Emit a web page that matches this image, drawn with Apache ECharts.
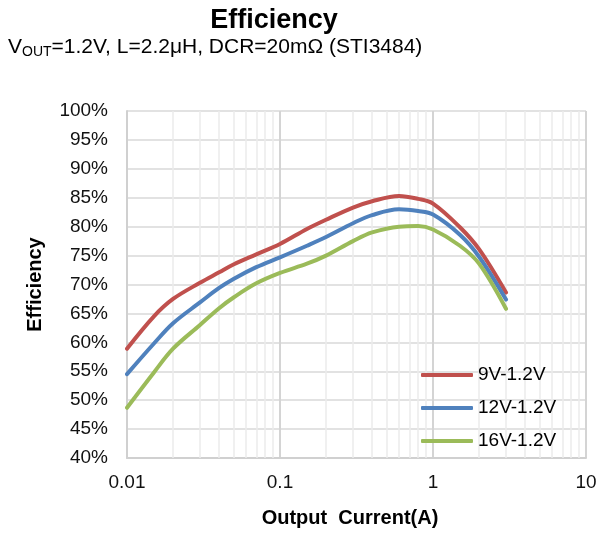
<!DOCTYPE html>
<html>
<head>
<meta charset="utf-8">
<script src="https://cdn.jsdelivr.net/npm/echarts@6/dist/echarts.min.js"></script>
<style>
  html, body { margin: 0; padding: 0; background: #fff; }
  #main { width: 600px; height: 533px; }
</style>
</head>
<body>
<div id="main"></div>
<script>
// output current (A)
const current = [0.01, 0.015, 0.02, 0.03, 0.04, 0.05, 0.07, 0.1, 0.15, 0.2, 0.3, 0.4, 0.6, 0.8, 1, 1.5, 2, 3];
// efficiency (%) per input voltage
const eff9V = [58.9, 64.5, 67.5, 70.3, 72.1, 73.5, 75.2, 77.0, 79.6, 81.2, 83.3, 84.4, 85.3, 84.8, 84.0, 79.9, 76.1, 68.6];
const eff12V = [54.5, 59.8, 63.3, 66.9, 69.4, 71.0, 73.0, 74.7, 76.7, 78.2, 80.6, 82.0, 83.0, 82.7, 82.1, 78.6, 74.8, 67.4];
const eff16V = [48.7, 54.8, 58.9, 63.0, 65.9, 67.8, 70.2, 72.0, 73.6, 75.0, 77.5, 79.0, 80.0, 80.1, 79.5, 76.7, 73.6, 65.8];
const seriesNames = ["9V-1.2V", "12V-1.2V", "16V-1.2V"];
const colors = ["#C0504D", "#4F81BD", "#9BBB59"];
// light gridlines at 2..9 of each decade
const minorGrid = [];
[0.01, 0.1, 1].forEach(function (d) {
  for (let k = 2; k <= 9; k++) minorGrid.push(+(d * k).toPrecision(2));
});

const myChart = echarts.init(document.getElementById("main"), null, { renderer: "canvas" });

function pairs(ys) {
  return current.map(function (x, i) { return [x, ys[i]]; });
}

const allData = [eff9V, eff12V, eff16V];
let series = [
  {
    name: "grid",
    type: "line",
    data: [],
    z: 1,
    silent: true,
    markLine: {
      z: 1,
      silent: true,
      symbol: ["none", "none"],
      animation: false,
      label: { show: false },
      lineStyle: { color: "#ebebeb", width: 1.5, type: "solid" },
      data: minorGrid.map(function (v) { return { xAxis: v }; })
    }
  }
];
for (let i = 0; i < allData.length; i++) {
  series.push({
    name: seriesNames[i],
    type: "line",
    data: pairs(allData[i]),
    smooth: 0.35,
    showSymbol: false,
    z: 3,
    lineStyle: { color: colors[i], width: 4, cap: "round" },
    itemStyle: { color: colors[i] }
  });
}

const option = {
  animation: false,
  title: [
    {
      text: "Efficiency",
      left: 274,
      textAlign: "center",
      top: 7,
      padding: 0,
      textStyle: { fontFamily: "Liberation Sans, Arial", fontSize: 27, fontWeight: "bold", color: "#000" }
    },
    {
      text: "{v|V}{s|OUT}{v|=1.2V, L=2.2\u03bcH, DCR=20m\u03a9 (STI3484)}",
      left: 8,
      top: 35,
      padding: 0,
      textStyle: {
        fontWeight: "normal",
        rich: {
          v: { fontFamily: "Liberation Sans, Arial", fontSize: 21, fontWeight: "normal", lineHeight: 24, color: "#000" },
          s: { fontFamily: "Liberation Sans, Arial", fontSize: 14, fontWeight: "normal", lineHeight: 14, verticalAlign: "bottom", color: "#000" }
        }
      }
    }
  ],
  legend: {
    data: seriesNames,
    orient: "vertical",
    left: 421,
    top: 364,
    padding: 0,
    itemWidth: 52,
    itemHeight: 4,
    itemGap: 11,
    icon: "roundRect",
    textStyle: { fontFamily: "Liberation Sans, Arial", fontSize: 19, lineHeight: 22, color: "#000" }
  },
  grid: { left: 127, right: 14, top: 111, bottom: 73 },
  xAxis: {
    type: "log",
    logBase: 10,
    min: 0.01,
    max: 10,
    name: "Output  Current(A)",
    nameLocation: "middle",
    nameGap: 50,
    nameTextStyle: { fontFamily: "Liberation Sans, Arial", fontSize: 20, fontWeight: "bold", color: "#000", padding: [0, 13, 0, 0] },
    axisLine: { show: true, lineStyle: { color: "#d0d0d0", width: 2 } },
    axisTick: { show: false },
    axisLabel: {
      margin: 15,
      fontFamily: "Liberation Sans, Arial",
      fontSize: 19,
      color: "#111",
      formatter: function (v) { return String(parseFloat(Number(v).toPrecision(2))); }
    },
    splitLine: { show: true, lineStyle: { color: "#d4d4d4", width: 2 } }
  },
  yAxis: {
    type: "value",
    min: 40,
    max: 100,
    interval: 5,
    name: "Efficiency",
    nameLocation: "middle",
    nameGap: 82,
    nameTextStyle: { fontFamily: "Liberation Sans, Arial", fontSize: 20, fontWeight: "bold", color: "#000" },
    axisLine: { show: true, lineStyle: { color: "#d0d0d0", width: 2 } },
    axisTick: { show: false },
    axisLabel: {
      margin: 19,
      fontFamily: "Liberation Sans, Arial",
      fontSize: 19,
      color: "#111",
      formatter: "{value}%"
    },
    splitLine: { show: true, lineStyle: { color: "#d9d9d9", width: 1.5 } }
  },
  series: series
};

myChart.setOption(option);
</script>
</body>
</html>
